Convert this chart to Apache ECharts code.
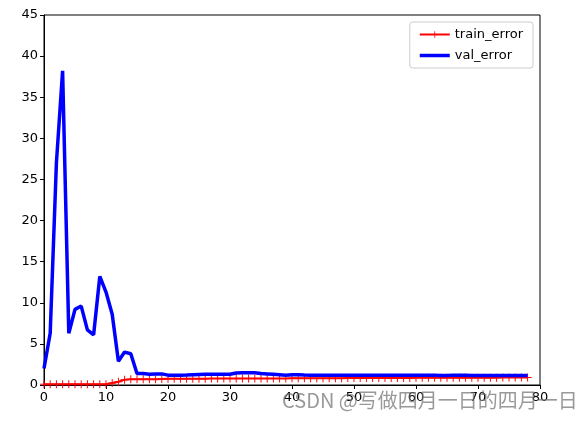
<!DOCTYPE html>
<html>
<head>
<meta charset="utf-8">
<script src="https://cdn.jsdelivr.net/npm/echarts@6/dist/echarts.min.js"></script>
<style>
  html, body { margin: 0; padding: 0; background: #fff; }
  #chart { width: 585px; height: 422px; }
</style>
</head>
<body>
<div id="chart"></div>
<script>
// 训练误差 / 验证误差
const trainError = [
  0.1, 0.1, 0.1, 0.1, 0.1, 0.1, 0.1, 0.1, 0.1, 0.1,
  0.1, 0.25, 0.4, 0.65, 0.7, 0.7, 0.7, 0.7, 0.7, 0.72,
  0.75, 0.75, 0.75, 0.76, 0.76, 0.77, 0.77, 0.78, 0.78, 0.78,
  0.8, 0.8, 0.8, 0.8, 0.8, 0.8, 0.8, 0.8, 0.8, 0.8,
  0.82, 0.82, 0.82, 0.82, 0.82, 0.83, 0.83, 0.83, 0.83, 0.84,
  0.84, 0.84, 0.85, 0.85, 0.85, 0.85, 0.86, 0.86, 0.86, 0.86,
  0.87, 0.87, 0.87, 0.87, 0.88, 0.88, 0.88, 0.88, 0.88, 0.88,
  0.89, 0.89, 0.89, 0.89, 0.9, 0.9, 0.9, 0.9, 0.9
];
const valError = [
  2.0, 6.3, 27, 38.2, 6.3, 9.2, 9.6, 6.7, 6.1, 13.2,
  11.3, 8.6, 2.9, 4.0, 3.8, 1.4, 1.4, 1.3, 1.35, 1.35,
  1.2, 1.2, 1.2, 1.22, 1.25, 1.28, 1.3, 1.3, 1.3, 1.3,
  1.3, 1.45, 1.5, 1.5, 1.48, 1.4, 1.35, 1.3, 1.25, 1.2,
  1.25, 1.25, 1.22, 1.2, 1.2, 1.2, 1.2, 1.2, 1.2, 1.2,
  1.2, 1.2, 1.2, 1.18, 1.18, 1.18, 1.18, 1.2, 1.2, 1.2,
  1.2, 1.2, 1.18, 1.18, 1.16, 1.16, 1.18, 1.18, 1.18, 1.16,
  1.16, 1.16, 1.15, 1.15, 1.15, 1.15, 1.15, 1.15, 1.15
];
const xTicks = { min: 0, max: 80, interval: 10 };
const yTicks = { min: 0, max: 45, interval: 5 };
const seriesNames = ['train_error', 'val_error'];
const watermark = 'CSDN @写做四月一日的四月一日';

const toPoints = arr => arr.map((v, i) => [i, v]);
const plusPath = 'path://M-0.12,-1H0.12V-0.12H1V0.12H0.12V1H-0.12V0.12H-1V-0.12H-0.12Z';
const thickLine = 'path://M0,0H30V3.5H0Z';
const tickFont = { color: '#000', fontSize: 13, fontFamily: 'DejaVu Sans' };

const chart = echarts.init(document.getElementById('chart'), null, { renderer: 'canvas' });

chart.setOption({
  animation: false,
  backgroundColor: '#fff',
  grid: {
    left: 44, right: 45, top: 15, bottom: 37,
    show: true, borderColor: '#000', borderWidth: 1
  },
  xAxis: {
    type: 'value',
    min: xTicks.min, max: xTicks.max, interval: xTicks.interval,
    axisLine: { show: true, lineStyle: { color: '#000' } },
    axisTick: { show: true, length: 4, inside: false, lineStyle: { color: '#000' } },
    axisLabel: Object.assign({ margin: 6 }, tickFont),
    splitLine: { show: false }
  },
  yAxis: {
    type: 'value',
    min: yTicks.min, max: yTicks.max, interval: yTicks.interval,
    axisLine: { show: true, lineStyle: { color: '#000' } },
    axisTick: { show: true, length: 4, inside: false, lineStyle: { color: '#000' } },
    axisLabel: Object.assign({ margin: 6 }, tickFont),
    splitLine: { show: false }
  },
  legend: {
    orient: 'vertical',
    right: 52, top: 22,
    itemWidth: 30, itemHeight: 8, itemGap: 8,
    padding: [6, 10, 6, 9],
    symbolKeepAspect: true,
    backgroundColor: '#fff',
    borderColor: '#ccc', borderWidth: 1, borderRadius: 3,
    textStyle: { color: '#000', fontSize: 13, fontFamily: 'DejaVu Sans' },
    data: [
      { name: seriesNames[0] },
      { name: seriesNames[1], icon: thickLine }
    ]
  },
  graphic: [{
    type: 'text',
    left: 282, top: 390,
    z: 100,
    style: {
      text: watermark,
      fill: 'rgba(110,110,110,0.7)',
      font: '20px "Noto Sans CJK SC", sans-serif'
    }
  }],
  series: [
    {
      name: seriesNames[0],
      type: 'line',
      data: toPoints(trainError),
      showSymbol: true,
      symbol: plusPath,
      symbolSize: 8,
      color: '#ff0000',
      itemStyle: { color: '#ff0000' },
      lineStyle: { color: '#ff0000', width: 2 },
      z: 2
    },
    {
      name: seriesNames[1],
      type: 'line',
      data: toPoints(valError),
      showSymbol: false,
      symbol: 'none',
      color: '#0000ff',
      lineStyle: { color: '#0000ff', width: 3.5 },
      z: 3
    }
  ]
});
</script>
</body>
</html>
